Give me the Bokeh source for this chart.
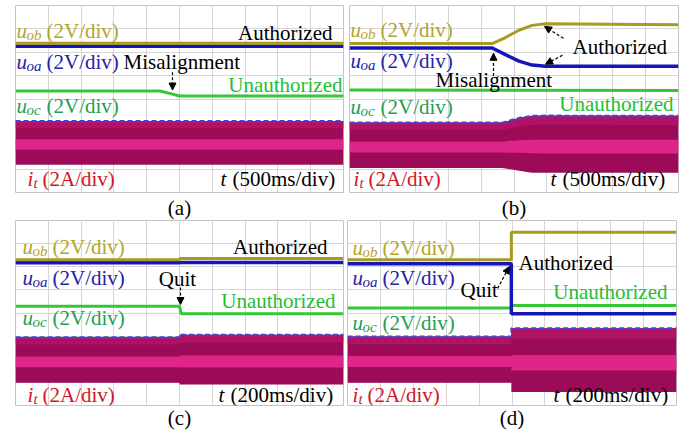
import numpy as np
from bokeh.plotting import figure
from bokeh.layouts import column, row
from bokeh.models import Range1d, FixedTicker, Arrow, NormalHead, Title
from bokeh.core.properties import value
from bokeh.embed import file_html
from bokeh.resources import INLINE

# ---------------- data (in scope divisions: x 0..10, y 0..8) ----------------
# (a) misalignment, 500 ms/div
a_t = [0, 10]
a_uob = [6.38, 6.38]
a_uoa = [6.26, 6.26]
a_uoc_t = [0, 4.4, 4.7, 5.0, 10]
a_uoc = [4.34, 4.34, 4.24, 4.13, 4.13]
a_env_t = [0, 10]
a_env_top = [3.06, 3.06]
a_env_bot = [1.19, 1.19]

# (b) misalignment, 500 ms/div
b_t = [0, 4.34, 4.74, 5.15, 5.55, 5.96, 10]
b_uob = [6.37, 6.37, 6.63, 6.94, 7.15, 7.22, 7.18]
b_uoa = [6.18, 6.18, 5.90, 5.62, 5.45, 5.40, 5.40]
b_uoc_t = [0, 10]
b_uoc = [4.38, 4.36]
b_env_t = [0, 4.64, 4.94, 5.25, 5.55, 5.96, 10]
b_env_top = [2.99, 2.99, 3.11, 3.22, 3.28, 3.29, 3.28]
b_env_bot = [1.05, 1.05, 0.98, 0.91, 0.85, 0.84, 0.84]

# (c) quit, 200 ms/div
c_t = [0, 5.0, 5.0, 10]
c_uob = [6.30, 6.30, 6.36, 6.36]
c_uoa = [6.17, 6.17, 6.18, 6.18]
c_uoc_t = [0, 5.0, 5.05, 10]
c_uoc = [4.29, 4.29, 3.97, 3.97]
c_env_t = [0, 5.0, 5.0, 10]
c_env_top = [2.95, 2.95, 3.06, 3.06]
c_env_bot = [0.98, 0.98, 0.91, 0.91]

# (d) quit, 200 ms/div
d_t = [0, 4.98, 4.98, 10]
d_uob = [6.30, 6.30, 7.49, 7.49]
d_uoa = [6.13, 6.13, 3.97, 3.97]
d_uoc_t = [0, 4.98, 4.98, 10]
d_uoc = [4.22, 4.22, 4.32, 4.32]
d_env_t = [0, 4.98, 4.98, 10]
d_env_top = [2.98, 2.98, 3.34, 3.34]
d_env_bot = [0.98, 0.98, 0.58, 0.58]

captions = ["(a)", "(b)", "(c)", "(d)"]

# ---------------- style ----------------
SERIF = "'Liberation Serif', 'Times New Roman', serif"
FS = "21px"
SFS = "15px"
BASE_DY = -6  # baseline correction in px
OLIVE_T = "#A99B1F"; OLIVE_TXT = "#B4A42C"
BLUE_T = "#1515B8"; BLUE_TXT = "#2323A8"
GREEN_T = "#36C636"; GREEN_TXT = "#25BD35"; TEAL_TXT = "#1E9E55"
RED_TXT = "#D41428"
DASH = "#2F4BE8"
DARK = "#9C0B57"; MID = "#B01266"; BRIGHT = "#E0258A"


def make_fig(w, h, bl, br, bt, bb, cap, cap_standoff):
    p = figure(width=w, height=h, x_range=Range1d(0, 10), y_range=Range1d(0, 8),
               x_axis_location=None, y_axis_location=None, toolbar_location=None,
               output_backend="svg", min_border_left=bl, min_border_right=br,
               min_border_top=bt, min_border_bottom=bb)
    p.xgrid.ticker = FixedTicker(ticks=list(range(11)))
    p.ygrid.ticker = FixedTicker(ticks=list(range(9)))
    p.grid.grid_line_color = "#D6D6D6"
    p.grid.grid_line_width = 1
    p.outline_line_color = "#C4C4C4"
    p.background_fill_color = "white"
    p.border_fill_color = "white"
    p.add_layout(Title(text=cap, align="center", text_font=SERIF, text_font_size=FS,
                       text_font_style="normal", text_color="black",
                       standoff=cap_standoff), "below")
    return p


def txt(p, x, y, s, color, align="left", size=FS, style="normal", dx=0, dy=0):
    p.text(x=[x], y=[y], text=[s], text_font=value(SERIF), text_font_size=size,
           text_color=color, text_align=align, text_baseline="alphabetic",
           text_font_style=style, x_offset=dx, y_offset=dy + BASE_DY)


def sym(p, x, y, main, sub, rest, color, sub_dx, rest_dx):
    txt(p, x, y, main, color, style="italic")
    txt(p, x, y, sub, color, size=SFS, style="italic", dx=sub_dx, dy=4)
    txt(p, x, y, rest, color, dx=rest_dx)


def arrow(p, x0, y0, x1, y1):
    p.add_layout(Arrow(end=NormalHead(size=7, fill_color="black", line_color="black"),
                       x_start=x0, y_start=y0, x_end=x1, y_end=y1,
                       line_color="black", line_width=1.2, line_dash="3 2"))


def draw_traces(p, t, uob, uoa, uoc_t, uoc, env_t, top, bot):
    top = np.array(top); bot = np.array(bot)
    span = top - bot
    p.varea(x=env_t, y1=bot, y2=top, fill_color=DARK)
    p.varea(x=env_t, y1=top - 0.16 * span, y2=top, fill_color=MID)
    p.varea(x=env_t, y1=top - 0.66 * span, y2=top - 0.42 * span, fill_color=BRIGHT)
    p.line(env_t, top, line_color=DASH, line_width=2, line_dash="5 3")
    p.line(uoc_t, uoc, line_color=GREEN_T, line_width=3)
    p.line(t, uoa, line_color=BLUE_T, line_width=3.5)
    p.line(t, uob, line_color=OLIVE_T, line_width=3)


# panel geometry in reference pixels (x0, y_bottom, px/div x, px/div y) for text placement
GA = (15, 193, 32.8, 23.5)
GB = (349, 193, 32.9, 23.5)
GC = (15, 405, 32.8, 23.125)
GD = (347, 405, 32.9, 23.125)


def P(g, xp, yp):
    return ((xp - g[0]) / g[2], (g[1] - yp) / g[3])


def labels(p, g, uob_pos, uoa_pos, uoc_pos, it_pos, t_pos, tdiv):
    sym(p, *P(g, *uob_pos), "u", "ob", "(2V/div)", OLIVE_TXT, 10, 30)
    sym(p, *P(g, *uoa_pos), "u", "oa", "(2V/div)", BLUE_TXT, 10, 30)
    sym(p, *P(g, *uoc_pos), "u", "oc", "(2V/div)", TEAL_TXT, 10, 30)
    sym(p, *P(g, *it_pos), "i", "t", "(2A/div)", RED_TXT, 6, 15)
    x, y = P(g, *t_pos)
    txt(p, x, y, "t", "black", style="italic")
    txt(p, x, y, "(%s/div)" % tdiv, "black", dx=12)


# ---------------- (a) ----------------
pa = make_fig(346, 220, 15, 3, 5, 27, captions[0], 2)
draw_traces(pa, a_t, a_uob, a_uoa, a_uoc_t, a_uoc, a_env_t, a_env_top, a_env_bot)
labels(pa, GA, (16, 37), (16, 67.5), (16, 112), (27, 185), (220, 185), "500ms")
txt(pa, *P(GA, 332, 39), "Authorized", "black", align="right")
txt(pa, *P(GA, 123, 67.5), "Misalignment", "black")
txt(pa, *P(GA, 342, 91), "Unauthorized", GREEN_TXT, align="right")
arrow(pa, *P(GA, 172, 72), *P(GA, 172, 90))

# ---------------- (b) ----------------
pb = make_fig(343, 220, 3, 11, 5, 27, captions[1], 2)
draw_traces(pb, b_t, b_uob, b_uoa, b_uoc_t, b_uoc, b_env_t, b_env_top, b_env_bot)
labels(pb, GB, (350, 36), (350, 66.7), (350, 112.7), (353, 185), (550, 185), "500ms")
txt(pb, *P(GB, 572, 53), "Authorized", "black")
txt(pb, *P(GB, 435, 86), "Misalignment", "black")
txt(pb, *P(GB, 673, 110), "Unauthorized", GREEN_TXT, align="right")
arrow(pb, *P(GB, 493, 76), *P(GB, 493, 53))
arrow(pb, *P(GB, 563, 38), *P(GB, 544, 26))
arrow(pb, *P(GB, 562, 55), *P(GB, 545, 64))

# ---------------- (c) ----------------
pc = make_fig(346, 216, 15, 3, 0, 31, captions[2], -4)
draw_traces(pc, c_t, c_uob, c_uoa, c_uoc_t, c_uoc, c_env_t, c_env_top, c_env_bot)
labels(pc, GC, (22, 252), (22, 283), (22, 323), (27, 400), (218, 400), "200ms")
txt(pc, *P(GC, 327, 252), "Authorized", "black", align="right")
txt(pc, *P(GC, 177, 284), "Quit", "black", align="center")
txt(pc, *P(GC, 335, 306), "Unauthorized", GREEN_TXT, align="right")
arrow(pc, *P(GC, 180, 287), *P(GC, 180, 304))

# ---------------- (d) ----------------
pd_ = make_fig(343, 216, 1, 13, 0, 31, captions[3], -4)
draw_traces(pd_, d_t, d_uob, d_uoa, d_uoc_t, d_uoc, d_env_t, d_env_top, d_env_bot)
labels(pd_, GD, (352, 253), (352, 283), (352, 328), (352, 400), (553, 400), "200ms")
txt(pd_, *P(GD, 518, 268), "Authorized", "black")
txt(pd_, *P(GD, 460, 295), "Quit", "black")
txt(pd_, *P(GD, 667, 297), "Unauthorized", GREEN_TXT, align="right")
arrow(pd_, *P(GD, 497, 288), *P(GD, 509, 266))

layout = column(row(pa, pb), row(pc, pd_))
open("out.html", "w").write(file_html(layout, INLINE))
